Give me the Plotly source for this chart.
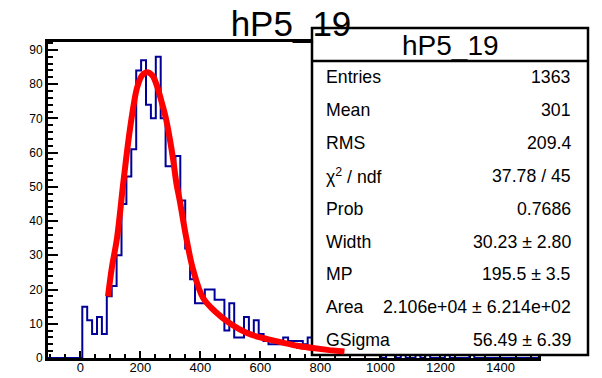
import plotly.graph_objects as go

# ---------------- data ----------------
hist_title = "hP5_19"
hist_xmin = -108.0
hist_xmax = 1525.0
n_bins = 100
bin_counts = [
    0, 0, 0, 0, 0, 0, 0,
    15, 11, 7, 12, 7, 18, 21, 30, 45, 53,
    61, 84, 87, 74, 70, 88, 70, 56, 56, 59,
    46, 32, 23, 16, 16, 20, 20, 17, 17, 8,
    16, 6, 6, 12, 7, 11, 7, 5, 4, 4,
    4, 6, 5, 5, 5, 4, 6,
    5, 4, 3, 4, 3, 2, 3, 2, 2, 1,
    2, 1, 1, 1, 0, 1, 1, 0, 1, 0,
    0, 1, 0, 1, 0, 0, 0, 1, 0, 0,
    0, 0, 1, 0, 0, 0, 0, 0, 0, 0,
    0, 0, 0, 0, 0, 0,
]

fit_x = [92, 105, 122, 144, 167, 189, 205, 222, 240, 255, 270, 285, 298, 309,
         320, 331, 353, 375, 409, 450, 500, 555, 600, 664, 720, 775, 830, 880]
fit_y = [18, 26.5, 35, 52, 68, 79, 82.5, 83.5, 82.5, 79.5, 75, 70, 64, 58,
         51, 46, 35, 26, 17.5, 13.5, 10, 7.3, 6, 4.7, 3.6, 2.9, 2.3, 1.9]

stat_labels = ["Entries", "Mean", "RMS", "χ<sup>2</sup> / ndf", "Prob",
               "Width", "MP", "Area", "GSigma"]
stat_values = ["1363", "301", "209.4", "37.78 / 45", "0.7686",
               "30.23 ± 2.80", "195.5 ± 3.5", "2.106e+04 ± 6.214e+02",
               "56.49 ± 6.39"]

x_range = [-108, 1525]
y_range = [0, 92.3]

# ---------------- figure ----------------
W, H = 602, 378
ML, MR, MT, MB = 48, 64, 42, 20
PW, PH = W - ML - MR, H - MT - MB
FONT = "Liberation Sans, Arial, Helvetica, sans-serif"


def px_x(p):
    return (p - ML) / PW


def px_y(p):
    return (H - MB - p) / PH


bw = (hist_xmax - hist_xmin) / n_bins
edges = [hist_xmin + i * bw for i in range(n_bins + 1)]
ys = bin_counts + [bin_counts[-1]]

fig = go.Figure()
fig.add_trace(go.Scatter(
    x=edges, y=ys, mode="lines",
    line=dict(shape="hv", color="#000099", width=2),
    hoverinfo="skip", showlegend=False))
fig.add_trace(go.Scatter(
    x=fit_x, y=fit_y, mode="lines",
    line=dict(shape="spline", smoothing=1.0, color="#ff0000", width=6),
    hoverinfo="skip", showlegend=False))

axis_common = dict(
    showline=True, linecolor="black", linewidth=3, mirror=True,
    showgrid=False, zeroline=False, ticks="inside", tickwidth=2,
    tickcolor="black", automargin=False,
)
fig.update_xaxes(range=x_range, tick0=0, dtick=200, ticklen=7,
                 minor=dict(ticks="inside", dtick=50, tick0=0, ticklen=4,
                            tickwidth=2, tickcolor="black"),
                 tickfont=dict(family=FONT, size=13, color="black"),
                 **axis_common)
fig.update_yaxes(range=y_range, tick0=0, dtick=10, ticklen=10,
                 minor=dict(ticks="inside", dtick=2, tick0=0, ticklen=5,
                            tickwidth=2, tickcolor="black"),
                 tickfont=dict(family=FONT, size=12, color="black"),
                 **axis_common)
try:
    fig.update_xaxes(ticklabelstandoff=-5)
except Exception:
    pass

# stats box
bx0, bx1, by0, by1, bsep = 312, 588, 28, 355, 61
shapes = [
    dict(type="rect", xref="paper", yref="paper",
         x0=px_x(bx0), x1=px_x(bx1), y0=px_y(by1), y1=px_y(by0),
         line=dict(color="black", width=2.5), fillcolor="white",
         layer="above"),
    dict(type="line", xref="paper", yref="paper",
         x0=px_x(bx0), x1=px_x(bx1), y0=px_y(bsep), y1=px_y(bsep),
         line=dict(color="black", width=2.5), layer="above"),
]
# tail of the fit function, drawn over the lower edge of the stats box
tail = [(fx, fy) for fx, fy in zip(fit_x, fit_y) if fx >= 720]
tail_path = "M " + " L ".join(f"{fx},{fy}" for fx, fy in tail)
shapes.append(dict(type="path", xref="x", yref="y", path=tail_path,
                   line=dict(color="#ff0000", width=6), layer="above"))

annotations = [
    dict(text=hist_title, xref="paper", yref="paper",
         x=px_x((bx0 + bx1) / 2), y=px_y((by0 + bsep) / 2 + 1),
         xanchor="center", yanchor="middle", showarrow=False,
         height=40, valign="middle",
         font=dict(family=FONT, size=28, color="black")),
]
row0, row_step = 77, 32.9
for i, (lab, val) in enumerate(zip(stat_labels, stat_values)):
    yy = px_y(row0 + i * row_step)
    annotations.append(dict(text=lab, xref="paper", yref="paper",
                            x=px_x(324), y=yy, xanchor="left",
                            yanchor="middle", showarrow=False,
                            font=dict(family=FONT, size=17.7, color="black")))
    annotations.append(dict(text=val, xref="paper", yref="paper",
                            x=px_x(573), y=yy, xanchor="right",
                            yanchor="middle", showarrow=False,
                            font=dict(family=FONT, size=17.7, color="black")))

fig.update_layout(
    width=W, height=H,
    margin=dict(l=ML, r=MR, t=MT, b=MB, pad=0, autoexpand=False),
    title=dict(text=hist_title, x=291 / W, xanchor="center",
               y=1 - 24 / H, yanchor="middle", xref="container",
               yref="container",
               font=dict(family=FONT, size=35, color="black")),
    plot_bgcolor="white", paper_bgcolor="white",
    shapes=shapes, annotations=annotations,
    showlegend=False,
)

fig.write_html(
    "out.html",
    config={"displayModeBar": False},
    post_script="document.body.style.margin='0px';"
                "document.body.style.padding='0px';",
)
